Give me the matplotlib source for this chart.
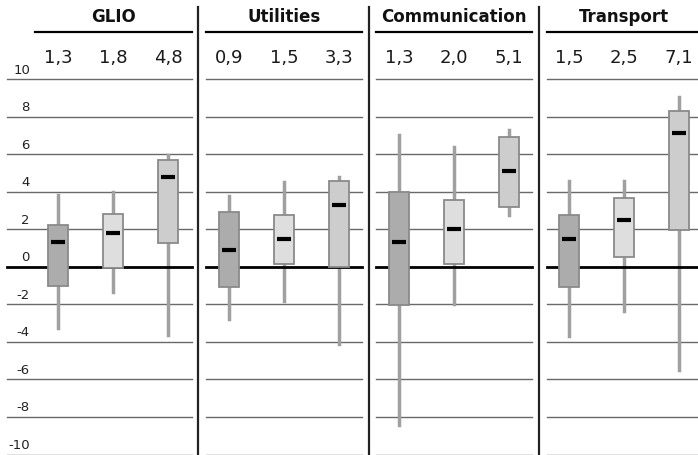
import matplotlib
matplotlib.use("Agg")
import matplotlib.pyplot as plt
import matplotlib.transforms as mtransforms

W, H = 698, 456
DPI = 100

sectors = ["GLIO", "Utilities", "Communication", "Transport"]
medians = [[1.3, 1.8, 4.8], [0.9, 1.5, 3.3], [1.3, 2.0, 5.1], [1.5, 2.5, 7.1]]
median_labels = [["1,3", "1,8", "4,8"], ["0,9", "1,5", "3,3"],
                 ["1,3", "2,0", "5,1"], ["1,5", "2,5", "7,1"]]
q3 = [[2.24, 2.8, 5.67], [2.9, 2.77, 4.59], [3.97, 3.56, 6.9], [2.75, 3.65, 8.32]]
q1 = [[-1.0, -0.05, 1.28], [-1.1, 0.14, 0.0], [-2.04, 0.14, 3.2], [-1.07, 0.5, 1.97]]
whishi = [[3.8, 4.0, 5.97], [3.79, 4.5, 4.77], [7.02, 6.37, 7.31], [4.59, 4.59, 9.03]]
whislo = [[-3.25, -1.35, -3.66], [-2.79, -1.81, -4.12], [-8.44, -1.99, 2.76], [-3.7, -2.37, -5.49]]
yticks = [10, 8, 6, 4, 2, 0, -2, -4, -6, -8, -10]
ytick_labels = ["10", "8", "6", "4", "2", "0", "-2", "-4", "-6", "-8", "-10"]

box_colors = ["#acacac", "#dedede", "#cdcdcd"]

fig = plt.figure(figsize=(W / DPI, H / DPI), dpi=DPI)

# pixel layout
top_px, bot_px = 80, 455.5
panels_px = [(7, 192, 58), (206, 362, 229), (376, 532, 399), (547, 698, 569)]
spacing = 55.0
header_extent = [(35, 192), (206, 362), (376, 532), (547, 698)]
separators = [198, 369, 539]


def fx(px):
    return px / W


def fy(py):
    return 1 - py / H


for k, name in enumerate(sectors):
    L, R, c1 = panels_px[k]
    ax = fig.add_axes([fx(L), fy(bot_px), fx(R - L), (bot_px - top_px) / H])
    ax.set_xlim(1 - (c1 - L) / spacing, 1 + (R - c1) / spacing)
    ax.set_ylim(-10, 10)
    ax.axis("off")

    for t in yticks:
        if t == 0:
            continue
        ax.axhline(t, color="#6a6a6a", lw=1.0, zorder=0, clip_on=False)
    ax.axhline(0, color="black", lw=2.0, zorder=4, clip_on=False)

    stats = []
    for i in range(3):
        stats.append(dict(med=medians[k][i], q1=q1[k][i], q3=q3[k][i],
                          whislo=whislo[k][i], whishi=whishi[k][i], fliers=[]))
    pos = [1, 2, 3]
    bp = ax.bxp(stats, positions=pos, widths=0.38, patch_artist=True,
                showcaps=False, showfliers=False,
                boxprops=dict(edgecolor="#8a8a8a", linewidth=1.3),
                whiskerprops=dict(color="#a0a0a0", linewidth=2.5),
                medianprops=dict(linewidth=0))
    for patch, c in zip(bp["boxes"], box_colors):
        patch.set_facecolor(c)
        patch.set_zorder(5)
    for w in bp["whiskers"]:
        w.set_zorder(3)
    ax.hlines(medians[k], [p - 0.13 for p in pos], [p + 0.13 for p in pos],
              color="black", lw=3, zorder=6)

    blend = mtransforms.blended_transform_factory(ax.transData, fig.transFigure)
    for i in range(3):
        ax.text(pos[i], fy(58), median_labels[k][i], transform=blend,
                ha="center", va="center", fontsize=13, color="#1a1a1a")
    ax.text(2, fy(17), name, transform=blend, ha="center", va="center",
            fontsize=12, fontweight="bold", color="#111111")

    if k == 0:
        tb = mtransforms.blended_transform_factory(fig.transFigure, ax.transData)
        off = mtransforms.offset_copy(tb, fig=fig, y=2.5, units="points")
        for t, lab in zip(yticks, ytick_labels):
            ax.text(fx(30), t, lab, transform=off, ha="right", va="bottom",
                    fontsize=9.5, color="#222222")

    hx0, hx1 = header_extent[k]
    fig.add_artist(plt.Line2D([fx(hx0), fx(hx1)], [fy(33), fy(33)],
                              color="black", lw=1.6))

for s in separators:
    fig.add_artist(plt.Line2D([fx(s), fx(s)], [fy(8), 0], color="#222222", lw=1.6))

fig.savefig("out.png", dpi=DPI)
